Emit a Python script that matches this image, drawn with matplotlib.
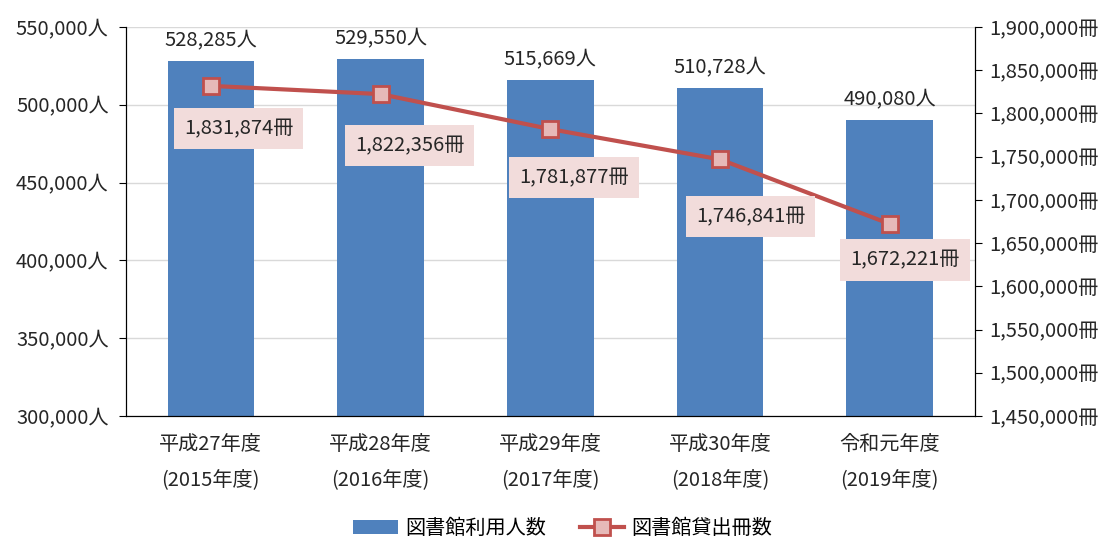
import matplotlib
matplotlib.use("Agg")
import matplotlib.pyplot as plt
from matplotlib.ticker import FuncFormatter, MultipleLocator

plt.rcParams['font.family'] = ['Noto Sans CJK JP', 'DejaVu Sans']

categories = ["平成27年度\n(2015年度)", "平成28年度\n(2016年度)", "平成29年度\n(2017年度)",
              "平成30年度\n(2018年度)", "令和元年度\n(2019年度)"]
users = [528285, 529550, 515669, 510728, 490080]
loans = [1831874, 1822356, 1781877, 1746841, 1672221]
bar_name = "図書館利用人数"
line_name = "図書館貸出冊数"

FS = 14.5
# label offsets (points) for the loan labels
label_offsets = [(20, -31), (21, -37), (17, -35), (22, -41), (11, -26)]

fig = plt.figure(figsize=(11.1, 5.45), dpi=100)
ax = fig.add_axes([0.1135, 0.2367, 0.7645, 0.7138])
ax2 = ax.twinx()

x = list(range(len(categories)))
bars = ax.bar(x, users, width=0.51, color="#4F81BD", zorder=2, label=bar_name)
ax.set_ylim(300000, 550000)
ax.set_xlim(-0.5, 4.5)
ax.yaxis.set_major_locator(MultipleLocator(50000))
ax.yaxis.set_major_formatter(FuncFormatter(lambda v, p: f"{int(v):,}人"))
ax.grid(axis='y', color="#D9D9D9", linewidth=1, zorder=0)
ax.set_axisbelow(True)
ax.set_xticks(x)
ax.set_xticklabels(categories, linespacing=1.9)
ax.tick_params(axis='x', length=0, pad=13, labelsize=FS)
ax.tick_params(axis='y', direction='out', length=5, pad=7.5, labelsize=FS, color='black')
for s in ['top']:
    ax.spines[s].set_visible(False)
    ax2.spines[s].set_visible(False)
for s in ['left', 'bottom', 'right']:
    ax.spines[s].set_color('black')
    ax2.spines[s].set_color('black')

for xi, v in zip(x, users):
    ax.annotate(f"{v:,}人", (xi, v), xytext=(0, 7), textcoords='offset points',
                ha='center', va='bottom', fontsize=FS, color='#262626')

line, = ax2.plot(x, loans, color="#C0504D", linewidth=3, marker='s', markersize=12,
                 markerfacecolor="#E6B9B8", markeredgecolor="#C0504D", markeredgewidth=2,
                 zorder=3, label=line_name)
ax2.set_ylim(1450000, 1900000)
ax2.yaxis.set_major_locator(MultipleLocator(50000))
ax2.yaxis.set_major_formatter(FuncFormatter(lambda v, p: f"{int(v):,}冊"))
ax2.tick_params(axis='y', direction='out', length=5, pad=5.5, labelsize=FS, color='black')

for xi, v, off in zip(x, loans, label_offsets):
    ax2.annotate(f"{v:,}冊", (xi, v), xytext=off, textcoords='offset points',
                 ha='center', va='center', fontsize=FS, color='#262626',
                 bbox=dict(boxstyle='square,pad=0.5', facecolor='#F2DCDB', edgecolor='none'),
                 zorder=5)

for t in ax.get_yticklabels() + ax2.get_yticklabels() + ax.get_xticklabels():
    t.set_color('#262626')

fig.legend([bars, line], [bar_name, line_name], loc='lower center', ncol=2,
           bbox_to_anchor=(0.507, -0.022), frameon=False, fontsize=FS,
           handlelength=2.2, columnspacing=1.7, handletextpad=0.35)

fig.savefig("out.png", dpi=100)
